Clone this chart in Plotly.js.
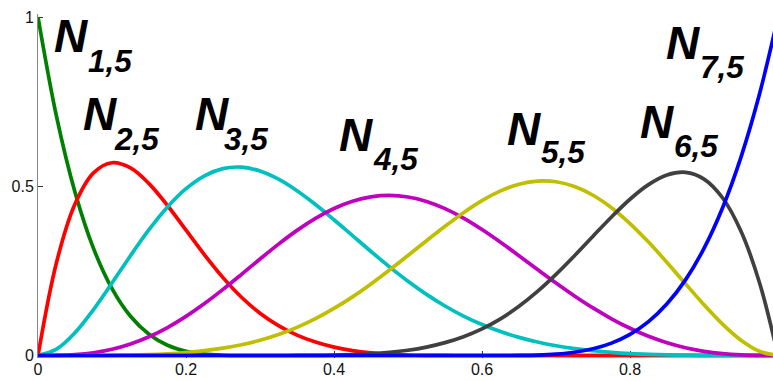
<!DOCTYPE html>
<html>
<head>
<meta charset="utf-8">
<script src="https://cdn.plot.ly/plotly-3.0.1.min.js"></script>
<style>
  html, body { margin: 0; padding: 0; background: #fff; }
  #chart { width: 773px; height: 381px; }
</style>
</head>
<body>
<div id="chart"></div>
<script>
// Quartic B-spline basis N_{i,5} on a clamped knot vector, sampled at step 0.025
const xs = [0, 0.025, 0.05, 0.075, 0.1, 0.125, 0.15, 0.175, 0.2, 0.225, 0.25, 0.275,
            0.3, 0.325, 0.35, 0.375, 0.4, 0.425, 0.45, 0.475, 0.5, 0.525, 0.55, 0.575,
            0.6, 0.625, 0.65, 0.675, 0.7, 0.725, 0.75, 0.775, 0.8, 0.825, 0.85, 0.875,
            0.9, 0.925, 0.95, 0.975, 1];

const n15 = [1, 0.7061, 0.4823, 0.3164, 0.1975, 0.1158, 0.0625, 0.0301, 0.0123, 0.0039, 0.0008, 0.0000,
             0, 0, 0, 0, 0, 0, 0, 0, 0, 0, 0, 0,
             0, 0, 0, 0, 0, 0, 0, 0, 0, 0, 0, 0, 0, 0, 0, 0, 0];
const n25 = [0, 0.2748, 0.4476, 0.5396, 0.5694, 0.5540, 0.5078, 0.4432, 0.3704, 0.2974, 0.2300, 0.1721,
             0.1250, 0.0883, 0.0603, 0.0396, 0.0247, 0.0145, 0.0078, 0.0038, 0.0015, 0.0005, 0.0001, 0.0000,
             0, 0, 0, 0, 0, 0, 0, 0, 0, 0, 0, 0, 0, 0, 0, 0, 0];
const n35 = [0, 0.0188, 0.0676, 0.1357, 0.2141, 0.2949, 0.3716, 0.4388, 0.4928, 0.5310, 0.5522, 0.5564,
             0.5450, 0.5208, 0.4868, 0.4461, 0.4011, 0.3542, 0.3073, 0.2619, 0.2194, 0.1806, 0.1462, 0.1165,
             0.0914, 0.0706, 0.0536, 0.0398, 0.0289, 0.0204, 0.0140, 0.0092, 0.0057, 0.0034, 0.0018, 0.0009,
             0.0004, 0.0001, 0.0000, 0.0000, 0];
const n45 = [0, 0.0003, 0.0025, 0.0081, 0.0183, 0.0339, 0.0553, 0.0826, 0.1156, 0.1535, 0.1953, 0.2397,
             0.2850, 0.3290, 0.3697, 0.4052, 0.4342, 0.4556, 0.4686, 0.4728, 0.4682, 0.4550, 0.4339, 0.4059,
             0.3722, 0.3346, 0.2948, 0.2542, 0.2142, 0.1760, 0.1405, 0.1085, 0.0804, 0.0567, 0.0375, 0.0227,
             0.0122, 0.0054, 0.0017, 0.0002, 0];
const n55 = [0, 0, 0, 0.0002, 0.0006, 0.0014, 0.0028, 0.0052, 0.0089, 0.0142, 0.0217, 0.0318,
             0.0450, 0.0620, 0.0832, 0.1088, 0.1390, 0.1733, 0.2114, 0.2524, 0.2954, 0.3390, 0.3818, 0.4220,
             0.4576, 0.4863, 0.5061, 0.5154, 0.5133, 0.4992, 0.4734, 0.4365, 0.3898, 0.3351, 0.2749, 0.2119,
             0.1499, 0.0927, 0.0451, 0.0123, 0];
const n65 = [0, 0, 0, 0, 0, 0, 0, 0, 0, 0, 0, 0,
             0, 0.0000, 0.0001, 0.0003, 0.0010, 0.0024, 0.0049, 0.0091, 0.0155, 0.0249, 0.0380, 0.0556,
             0.0787, 0.1084, 0.1453, 0.1893, 0.2397, 0.2948, 0.3524, 0.4092, 0.4616, 0.5047, 0.5332, 0.5410,
             0.5212, 0.4660, 0.3670, 0.2150, 0];
const n75 = [0, 0, 0, 0, 0, 0, 0, 0, 0, 0, 0, 0,
             0, 0, 0, 0, 0, 0, 0, 0, 0, 0, 0, 0,
             0, 0, 0.0002, 0.0012, 0.0039, 0.0095, 0.0198, 0.0366, 0.0625, 0.1001, 0.1526, 0.2234,
             0.3164, 0.4358, 0.5862, 0.7725, 1];

const basisNames = ['N', 'N', 'N', 'N', 'N', 'N', 'N'];
const basisSubs = ['1,5', '2,5', '3,5', '4,5', '5,5', '6,5', '7,5'];

const xTickVals = [0, 0.2, 0.4, 0.6, 0.8];
const xTickText = ['0', '0.2', '0.4', '0.6', '0.8'];
const yTickVals = [0, 0.5, 1];
const yTickText = ['0', '0.5', '1'];

// styling
const series = [n15, n25, n35, n45, n55, n65, n75];
const colors = ['#008000', '#ff0000', '#00bfbf', '#bf00bf', '#bfbf00', '#404040', '#0000ff'];

const W = 773, H = 381;
const M = { l: 38, r: 0, t: 14, b: 23 };
const plotW = W - M.l - M.r, plotH = H - M.t - M.b;

// label centres in page pixels: [N centre x, N centre y, subscript centre x, subscript centre y]
const labelSpots = [
  [70.5, 36, 109.5, 61],
  [99.5, 114, 136, 138.5],
  [211.5, 114, 246, 138.5],
  [356, 135, 395.5, 159],
  [523.5, 129, 562.5, 152],
  [656.5, 122, 695.5, 146],
  [682.5, 43, 721.5, 66.5]
];
const px = v => (v - M.l) / plotW;
const py = v => (H - M.b - v) / plotH;

const labelFont = 'Liberation Sans, Arial, Helvetica, sans-serif';
const annotations = [];
basisNames.forEach((nm, i) => {
  const s = labelSpots[i];
  annotations.push({
    xref: 'paper', yref: 'paper', x: px(s[0]), y: py(s[1]),
    xanchor: 'center', yanchor: 'middle', showarrow: false,
    text: '<b><i>' + nm + '</i></b>',
    font: { family: labelFont, size: 46, color: '#000' }
  });
  annotations.push({
    xref: 'paper', yref: 'paper', x: px(s[2]), y: py(s[3]),
    xanchor: 'center', yanchor: 'middle', showarrow: false,
    text: '<b><i>' + basisSubs[i] + '</i></b>',
    font: { family: labelFont, size: 31.5, color: '#000' }
  });
});

const traces = series.map((ys, i) => ({
  type: 'scatter', mode: 'lines', x: xs, y: ys,
  line: { color: colors[i], width: 3.7, shape: 'spline', smoothing: 1 },
  hoverinfo: 'skip'
}));

const tickFont = { family: 'Liberation Sans, Arial, Helvetica, sans-serif', size: 16, color: '#111' };

const layout = {
  width: W, height: H,
  margin: { l: M.l, r: M.r, t: M.t, b: M.b, pad: 0 },
  paper_bgcolor: '#fff', plot_bgcolor: '#fff',
  showlegend: false,
  xaxis: {
    range: [0, plotW / 740],
    tickvals: xTickVals, ticktext: xTickText,
    ticks: 'inside', ticklen: 7, tickwidth: 1, tickcolor: '#333',
    showline: false, showgrid: false, zeroline: false,
    tickfont: tickFont, layer: 'below traces', fixedrange: true
  },
  yaxis: {
    range: [-0.00739, 1.00886],
    tickvals: yTickVals, ticktext: yTickText,
    ticks: 'inside', ticklen: 5, tickwidth: 1, tickcolor: '#333',
    showline: true, linecolor: '#888', linewidth: 1,
    showgrid: false, zeroline: false,
    tickfont: tickFont, layer: 'below traces', fixedrange: true
  },
  annotations: annotations
};

Plotly.newPlot('chart', traces, layout, { displayModeBar: false, staticPlot: true });
</script>
</body>
</html>
